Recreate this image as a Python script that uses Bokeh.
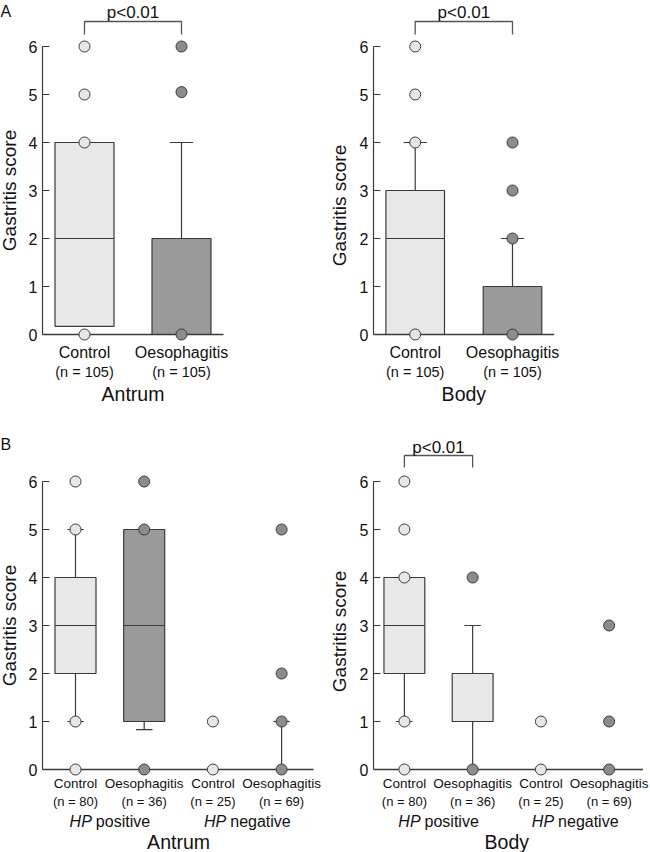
from math import pi
from bokeh.plotting import figure
from bokeh.layouts import column, row
from bokeh.models import FixedTicker, Range1d, ColumnDataSource
from bokeh.core.properties import value
from bokeh.embed import file_html
from bokeh.resources import INLINE

# ---------------- data ----------------
A_groups = ["Control", "Oesophagitis"]
A_n = ["(n = 105)", "(n = 105)"]

A_antrum_q1 = [0.17, 0.0]
A_antrum_med = [2.0, 2.0]
A_antrum_q3 = [4.0, 2.0]
A_antrum_lo = [0.17, 0.0]
A_antrum_hi = [4.0, 4.0]
A_antrum_pts = [[0, 4, 5, 6], [0, 5.05, 6]]
A_antrum_fill = ["light", "dark"]

A_body_q1 = [0.0, 0.0]
A_body_med = [2.0, 0.0]
A_body_q3 = [3.0, 1.0]
A_body_lo = [0.0, 0.0]
A_body_hi = [4.0, 2.0]
A_body_pts = [[0, 4, 5, 6], [0, 2, 3, 4]]
A_body_fill = ["light", "dark"]

B_groups = ["Control", "Oesophagitis", "Control", "Oesophagitis"]
B_n = ["(n = 80)", "(n = 36)", "(n = 25)", "(n = 69)"]
B_hp = ["positive", "negative"]

B_antrum_q1 = [2.0, 1.0, 0.0, 0.0]
B_antrum_med = [3.0, 3.0, 0.0, 0.0]
B_antrum_q3 = [4.0, 5.0, 0.0, 0.0]
B_antrum_lo = [1.0, 0.83, 0.0, 0.0]
B_antrum_hi = [5.0, 5.0, 0.0, 1.0]
B_antrum_pts = [[0, 1, 5, 6], [0, 5, 6], [0, 1], [0, 1, 2, 5]]
B_antrum_fill = ["light", "dark", "light", "dark"]

B_body_q1 = [2.0, 1.0, 0.0, 0.0]
B_body_med = [3.0, 1.0, 0.0, 0.0]
B_body_q3 = [4.0, 2.0, 0.0, 0.0]
B_body_lo = [1.0, 0.0, 0.0, 0.0]
B_body_hi = [4.0, 3.0, 0.0, 0.0]
B_body_pts = [[0, 1, 4, 5, 6], [0, 4], [0, 1], [0, 1, 3]]
B_body_fill = ["light", "light", "light", "dark"]

point_fill = ["light", "dark", "light", "dark"]
y_ticks = [0, 1, 2, 3, 4, 5, 6]
y_title = "Gastritis score"
p_text = "p<0.01"

# ---------------- style ----------------
FONT = "Liberation Sans"
BOX = {"light": "#e8e8e8", "dark": "#9a9a9a"}
DOT = {"light": "#e6e6e6", "dark": "#8c8c8c"}
INK = "#3a3a3a"
TXT = "#111111"
UNIT = 48.0  # px per score unit


def base_fig(width, height, x_range, y0_px, left):
    p = figure(width=width, height=height, x_range=x_range,
               y_range=Range1d(-(height - y0_px) / UNIT, y0_px / UNIT),
               output_backend="svg", toolbar_location=None,
               x_axis_location=None, y_axis_location=("left" if left else None),
               min_border_left=left, min_border_right=0, min_border_top=0,
               min_border_bottom=0)
    p.outline_line_color = None
    p.xgrid.visible = False
    p.ygrid.visible = False
    p.background_fill_color = None
    p.border_fill_color = None
    return p


def strip(letter, letter_y, width, height, y0_px):
    """Narrow left column holding the panel letter and the y-axis title."""
    p = base_fig(width, height, Range1d(0, width), y0_px, 0)
    p.text(x=[0], y=[(y0_px - letter_y) / UNIT], text=[letter],
           text_align="left", text_baseline="top", text_font=value(FONT),
           text_font_size=value("16px"), text_color=TXT)
    p.text(x=[9], y=[3], text=[y_title], angle=pi / 2, text_align="center",
           text_baseline="middle", text_font=value(FONT),
           text_font_size=value("19px"), text_color=TXT)
    return p


def panel(groups, ns, q1, med, q3, lo, hi, pts, fills, *, width, height, left,
          off, step, end_off, box_w, y0_px, region, axis_title=True,
          hp=None, bracket=None, cat_fs="16px", n_fs="14.5px",
          offs=(18, 37, 59)):
    n = len(groups)
    x_start = 1 - off / step
    x_end = x_start + (width - left) / step
    p = base_fig(width, height, Range1d(x_start, x_end), y0_px, left)

    ax = p.yaxis[0]
    ax.bounds = (0, 6)
    ax.ticker = FixedTicker(ticks=y_ticks)
    ax.minor_tick_line_color = None
    ax.major_tick_in = 7
    ax.major_tick_out = 0
    ax.axis_line_color = INK
    ax.axis_line_width = 1.2
    ax.major_tick_line_color = INK
    ax.major_tick_line_width = 1.2
    ax.major_label_text_font = FONT
    ax.major_label_text_font_size = "16px"
    ax.major_label_text_color = TXT
    ax.major_label_standoff = 5
    if axis_title:
        ax.axis_label = y_title
        ax.axis_label_text_font = FONT
        ax.axis_label_text_font_size = "19px"
        ax.axis_label_text_font_style = "normal"
        ax.axis_label_text_color = TXT
        ax.axis_label_standoff = 7

    xs = list(range(1, n + 1))
    hw = box_w / step / 2
    cap = 0.12

    # boxes
    bi = [i for i in range(n) if q3[i] > q1[i]]
    bsrc = ColumnDataSource(dict(
        l=[xs[i] - hw for i in bi], r=[xs[i] + hw for i in bi],
        b=[q1[i] for i in bi], t=[q3[i] for i in bi],
        c=[BOX[fills[i]] for i in bi]))
    p.quad(left="l", right="r", bottom="b", top="t", fill_color="c",
           line_color=INK, line_width=1.2, source=bsrc)
    p.segment(x0=[xs[i] - hw for i in bi], x1=[xs[i] + hw for i in bi],
              y0=[med[i] for i in bi], y1=[med[i] for i in bi],
              line_color=INK, line_width=1.2)

    # whiskers + caps
    wx0, wy0, wx1, wy1 = [], [], [], []
    for i in range(n):
        if hi[i] > q3[i]:
            wx0 += [xs[i], xs[i] - cap]; wx1 += [xs[i], xs[i] + cap]
            wy0 += [q3[i], hi[i]]; wy1 += [hi[i], hi[i]]
        if lo[i] < q1[i]:
            wx0 += [xs[i], xs[i] - cap]; wx1 += [xs[i], xs[i] + cap]
            wy0 += [q1[i], lo[i]]; wy1 += [lo[i], lo[i]]
    p.segment(x0=wx0, y0=wy0, x1=wx1, y1=wy1, line_color=INK, line_width=1.2)

    # baseline (x axis line at score 0)
    p.segment(x0=[x_start], y0=[0], x1=[n + end_off / step], y1=[0],
              line_color=INK, line_width=1.3)

    # individual scores
    px_, py_, pc_ = [], [], []
    for i in range(n):
        for v in pts[i]:
            px_.append(xs[i]); py_.append(v); pc_.append(DOT[point_fill[i]])
    p.scatter(x=px_, y=py_, size=11, marker="circle", fill_color=pc_,
              line_color=INK, line_width=1)

    # category labels
    p.text(x=xs, y=[-offs[0] / UNIT] * n, text=groups, text_align="center",
           text_baseline="middle", text_font=value(FONT),
           text_font_size=value(cat_fs), text_color=TXT)
    p.text(x=xs, y=[-offs[1] / UNIT] * n, text=ns, text_align="center",
           text_baseline="middle", text_font=value(FONT),
           text_font_size=value(n_fs), text_color=TXT)
    if hp is not None:
        mids = [1.5, 3.5]
        hp_end = [-18, -21]    # px from centre where "HP" ends
        word_start = [-14, -17]
        p.text(x=[m + d / step for m, d in zip(mids, hp_end)],
               y=[-offs[2] / UNIT] * 2, text=["HP", "HP"], text_align="right",
               text_baseline="middle", text_font=value(FONT),
               text_font_style="italic", text_font_size=value("16px"),
               text_color=TXT)
        p.text(x=[m + d / step for m, d in zip(mids, word_start)],
               y=[-offs[2] / UNIT] * 2, text=hp, text_align="left",
               text_baseline="middle", text_font=value(FONT),
               text_font_size=value("16px"), text_color=TXT)
    p.text(x=[(1 + n) / 2], y=[-offs[-1] / UNIT], text=[region],
           text_align="center", text_baseline="middle", text_font=value(FONT),
           text_font_size=value("19.5px"), text_color=TXT)

    if bracket is not None:
        a, b, yt, yb, ytxt = bracket
        p.line(x=[a, a, b, b], y=[yb, yt, yt, yb], line_color="#555555",
               line_width=1.3)
        p.text(x=[(a + b) / 2], y=[ytxt], text=[p_text], text_align="center",
               text_baseline="alphabetic", text_font=value(FONT),
               text_font_size=value("17px"), text_color=TXT)
    return p


TOP_H, BOT_H = 410, 442
TY0, BY0 = 334, 359
SW = 22  # width of the letter / axis-title strip

s1 = strip("A", 2, SW, TOP_H, TY0)
p1 = panel(A_groups, A_n, A_antrum_q1, A_antrum_med, A_antrum_q3, A_antrum_lo,
           A_antrum_hi, A_antrum_pts, A_antrum_fill, width=325 - SW,
           height=TOP_H, left=42 - SW, off=42, step=97, end_off=42, box_w=59,
           y0_px=TY0, region="Antrum", axis_title=False,
           bracket=(1, 2, (TY0 - 21) / UNIT, (TY0 - 34) / UNIT, (TY0 - 12) / UNIT))
p2 = panel(A_groups, A_n, A_body_q1, A_body_med, A_body_q3, A_body_lo,
           A_body_hi, A_body_pts, A_body_fill, width=325, height=TOP_H,
           left=46, off=42, step=98, end_off=42, box_w=59, y0_px=TY0,
           region="Body",
           bracket=(1, 2, (TY0 - 21) / UNIT, (TY0 - 34) / UNIT, (TY0 - 12) / UNIT))
s3 = strip("B", 25, SW, BOT_H, BY0)
p3 = panel(B_groups, B_n, B_antrum_q1, B_antrum_med, B_antrum_q3, B_antrum_lo,
           B_antrum_hi, B_antrum_pts, B_antrum_fill, width=325 - SW,
           height=BOT_H, left=42 - SW, off=33, step=68.7, end_off=32, box_w=41,
           y0_px=BY0, region="Antrum", axis_title=False, hp=B_hp,
           cat_fs="13.5px", n_fs="13px", offs=(14, 32, 52, 72))
p4 = panel(B_groups, B_n, B_body_q1, B_body_med, B_body_q3, B_body_lo,
           B_body_hi, B_body_pts, B_body_fill, width=325, height=BOT_H,
           left=47, off=31, step=68.5, end_off=34, box_w=41, y0_px=BY0,
           region="Body", hp=B_hp,
           cat_fs="13.5px", n_fs="13px", offs=(14, 32, 52, 72),
           bracket=(1, 2, (BY0 - 45) / UNIT, (BY0 - 57) / UNIT, (BY0 - 37) / UNIT))

layout = column(row(s1, p1, p2), row(s3, p3, p4))
open("out.html", "w").write(file_html(layout, INLINE))
